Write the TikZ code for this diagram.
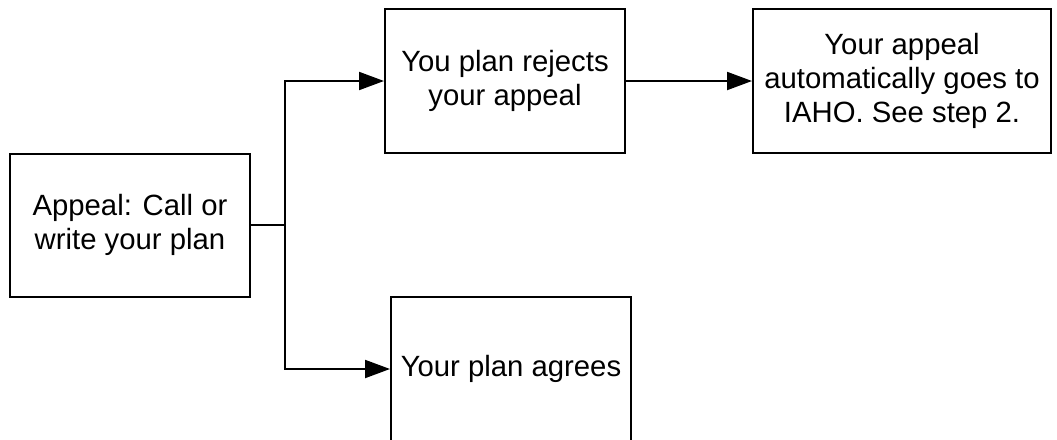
\documentclass[tikz,border=0pt]{standalone}
\usepackage{fontspec}
\setmainfont{Liberation Sans}
\usetikzlibrary{arrows.meta}
\begin{document}
\begin{tikzpicture}[x=1pt,y=-1pt,
  box/.style={draw=black,line width=2pt,fill=white,align=center,inner sep=0pt,
    font=\fontsize{29.3}{34}\selectfont,text=black},
  conn/.style={draw=black,line width=2pt,-{Triangle[length=25pt,width=18pt]}},
  plain/.style={draw=black,line width=2pt}]
\useasboundingbox (0,0) rectangle (1057,439);
\clip (0,0) rectangle (1057,439);
\node[box,minimum width=240pt,minimum height=143pt] (A) at (130,225) {Appeal: Call or\\write your plan};
\node[box,minimum width=240pt,minimum height=144pt] (B) at (505,81) {You plan rejects\\your appeal};
\node[box,minimum width=298pt,minimum height=144pt] (C) at (902,81) {Your appeal\\automatically goes to\\IAHO. See step 2.};
\node[box,minimum width=240pt,minimum height=144pt] (D) at (511,369) {Your plan agrees};
\coordinate (J) at (285,225);
\draw[plain] (A.east) -- (J);
\draw[conn] (J) |- (B.west);
\draw[conn] (J) |- (D.west);
\draw[conn] (B.east) -- (C.west);
\end{tikzpicture}
\end{document}
